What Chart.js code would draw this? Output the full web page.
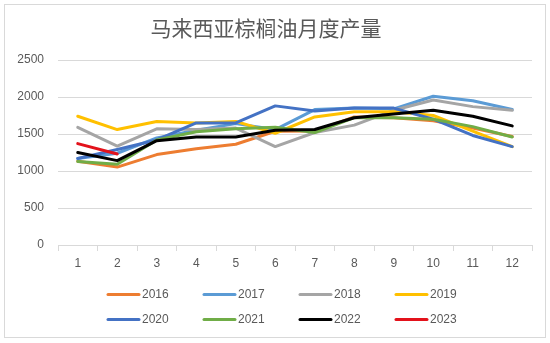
<!DOCTYPE html>
<html>
<head>
<meta charset="utf-8">
<script src="https://cdn.jsdelivr.net/npm/chart.js@4"></script>
<style>
  html, body { margin: 0; padding: 0; background: #fff; }
  #wrap { width: 550px; height: 343px; position: relative; }
</style>
</head>
<body>
<div id="wrap"><canvas id="chart"></canvas></div>
<script>
// 马来西亚棕榈油月度产量（千吨）
const months = ['1', '2', '3', '4', '5', '6', '7', '8', '9', '10', '11', '12'];
const yTicks = [0, 500, 1000, 1500, 2000, 2500];

const y2016 = [1133, 1053, 1222, 1302, 1362, 1537, 1540, 1730, 1720, 1680, 1580, 1465];
const y2017 = [1170, 1240, 1447, 1550, 1640, 1560, 1830, 1850, 1840, 2010, 1950, 1830];
const y2018 = [1590, 1337, 1570, 1560, 1580, 1330, 1520, 1620, 1820, 1960, 1870, 1820];
const y2019 = [1740, 1560, 1670, 1650, 1670, 1510, 1730, 1800, 1800, 1750, 1540, 1330];
const y2020 = [1170, 1290, 1420, 1650, 1650, 1880, 1810, 1850, 1850, 1700, 1480, 1330];
const y2021 = [1130, 1090, 1420, 1530, 1570, 1590, 1520, 1720, 1720, 1700, 1600, 1460];
const y2022 = [1250, 1140, 1410, 1460, 1460, 1550, 1560, 1720, 1770, 1820, 1740, 1610];
const y2023 = [1370, 1230];

const seriesNames  = ['2016', '2017', '2018', '2019', '2020', '2021', '2022', '2023'];
const seriesData   = [y2016, y2017, y2018, y2019, y2020, y2021, y2022, y2023];
const seriesColors = ['#ED7D31', '#5B9BD5', '#A5A5A5', '#FFC000', '#4472C4', '#70AD47', '#000000', '#E3121B'];

const TEXT = '#595959';
const GRID = '#D9D9D9';

const datasets = seriesNames.map((name, i) => ({
  label: name,
  data: seriesData[i],
  borderColor: seriesColors[i],
  backgroundColor: seriesColors[i],
  borderWidth: 3,
  borderCapStyle: 'round',
  borderJoinStyle: 'round',
  pointRadius: 0,
  pointHoverRadius: 0,
  tension: 0,
  fill: false,
  order: seriesNames.length - i, // later years on top, like the original
}));

// frame round the whole chart + two-row legend at the bottom
const framePlugin = {
  id: 'frame',
  beforeDraw(chart) {
    const ctx = chart.ctx;
    ctx.save();
    ctx.fillStyle = '#fff';
    ctx.fillRect(0, 0, chart.width, chart.height);
    ctx.strokeStyle = GRID;
    ctx.lineWidth = 1;
    ctx.strokeRect(4.5, 4.5, 541, 333);
    ctx.restore();
  },
  afterDraw(chart) {
    const ctx = chart.ctx;
    ctx.save();
    ctx.font = "12px 'Liberation Sans', Arial, sans-serif";
    ctx.textBaseline = 'middle';
    ctx.textAlign = 'left';
    seriesNames.forEach((name, i) => {
      const x = 108 + (i % 4) * 96;
      const y = 294.5 + Math.floor(i / 4) * 25;
      ctx.strokeStyle = seriesColors[i];
      ctx.lineWidth = 3;
      ctx.lineCap = 'round';
      ctx.beginPath();
      ctx.moveTo(x, y);
      ctx.lineTo(x + 31, y);
      ctx.stroke();
      ctx.fillStyle = TEXT;
      ctx.fillText(name, x + 34, y);
    });
    ctx.restore();
  },
};

new Chart(document.getElementById('chart'), {
  type: 'line',
  data: { labels: months, datasets },
  plugins: [framePlugin],
  options: {
    responsive: true,
    maintainAspectRatio: false,
    animation: false,
    layout: { padding: { top: 0, left: 0, right: 18, bottom: 73 } },
    plugins: {
      legend: { display: false },
      tooltip: { enabled: false },
      title: {
        display: true,
        text: '马来西亚棕榈油月度产量',
        color: TEXT,
        font: { family: "'Noto Sans CJK SC', sans-serif", size: 21, weight: 'normal' },
        padding: { top: 15.5, bottom: 19.3 },
      },
    },
    scales: {
      x: {
        offset: true,
        grid: {
          display: true,
          offset: true,
          drawOnChartArea: false,
          drawTicks: true,
          tickLength: 6,
          color: GRID,
        },
        border: { display: true, color: GRID },
        ticks: {
          color: TEXT,
          padding: 5,
          maxRotation: 0,
          font: { family: "'Liberation Sans', Arial, sans-serif", size: 12 },
        },
        afterFit: (s) => { s.height = 25; },
      },
      y: {
        min: 0,
        max: 2500,
        afterBuildTicks: (s) => { s.ticks = yTicks.map((v) => ({ value: v })); },
        grid: { color: GRID, drawTicks: false },
        border: { display: false },
        ticks: {
          color: TEXT,
          padding: 14,
          callback: (v) => String(v),
          font: { family: "'Liberation Sans', Arial, sans-serif", size: 12 },
        },
        afterFit: (s) => { s.width = 58; },
      },
    },
  },
});
</script>
</body>
</html>
